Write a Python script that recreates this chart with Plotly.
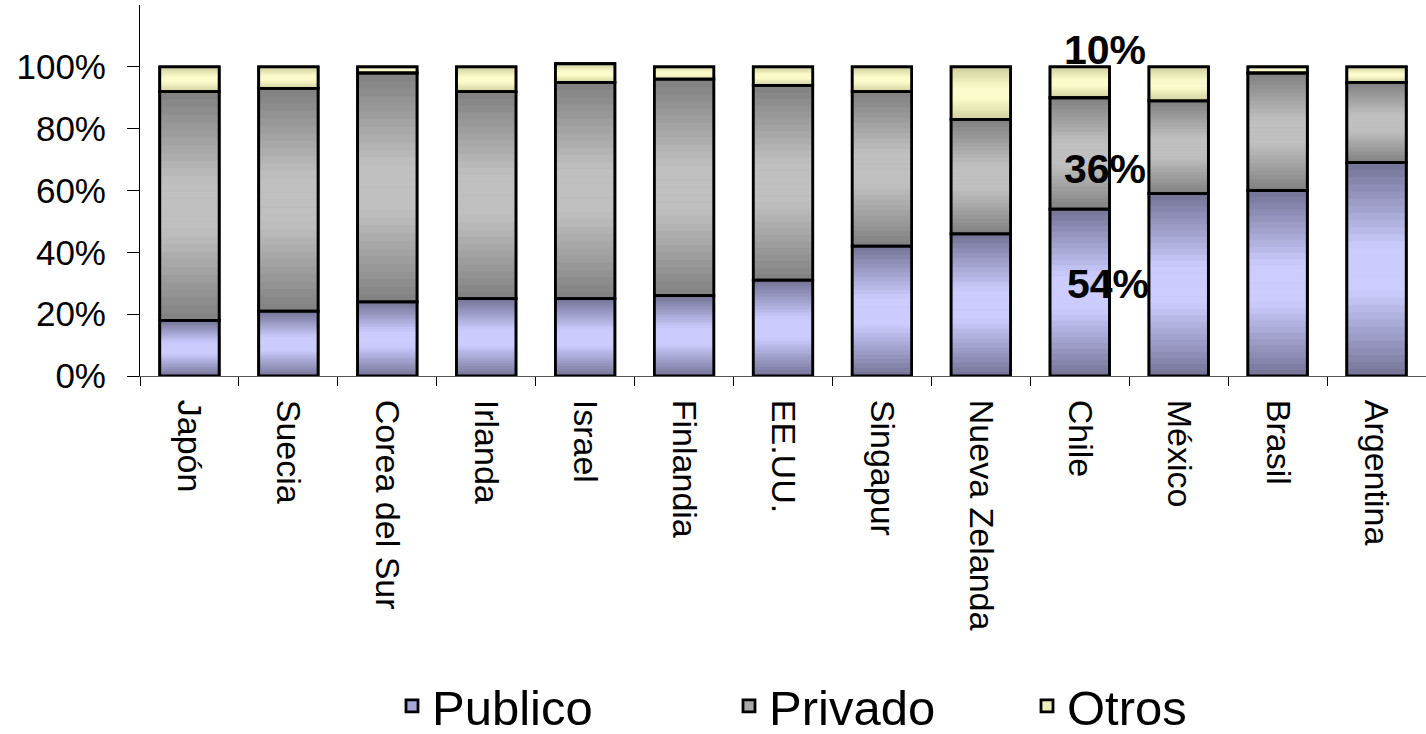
import plotly.graph_objects as go

categories = ["Japón", "Suecia", "Corea del Sur", "Irlanda", "Israel", "Finlandia",
              "EE.UU.", "Singapur", "Nueva Zelanda", "Chile", "México", "Brasil", "Argentina"]
publico = [18, 21, 24, 25, 25, 26, 31, 42, 46, 54, 59, 60, 69]
privado = [74, 72, 74, 67, 70, 70, 63, 50, 37, 36, 30, 38, 26]
otros = [8, 7, 2, 8, 6, 4, 6, 8, 17, 10, 11, 2, 5]
series_names = ["Publico", "Privado", "Otros"]
chile_labels = ["54%", "36%", "10%"]
y_ticks = [0, 20, 40, 60, 80, 100]

# gradient colours: (edge, centre)
grad = {
    "Publico": ((0x73, 0x73, 0x96), (0xCC, 0xCC, 0xFF)),
    "Privado": ((0x80, 0x80, 0x80), (0xC0, 0xC0, 0xC0)),
    "Otros": ((0xCF, 0xCF, 0x9E), (0xFC, 0xFC, 0xCC)),
}
mid = {"Publico": "#A8A8D8", "Privado": "#A8A8A8", "Otros": "#EEEEBB"}

FONT = "Liberation Sans, Arial, sans-serif"
BAR_W = 0.6
N = 30

fig = go.Figure()
values = [publico, privado, otros]
bases = []
acc = [0] * len(categories)
for vals in values:
    bases.append(list(acc))
    acc = [a + v for a, v in zip(acc, vals)]

legend_ids = ["legend", "legend2", "legend3"]

# legend/base layer
for name, vals, base, lid in zip(series_names, values, bases, legend_ids):
    fig.add_trace(go.Bar(x=categories, y=vals, base=base, name=name, width=BAR_W,
                         marker=dict(color=mid[name], line=dict(color="black", width=2.8)),
                         legend=lid, hoverinfo="skip"))

# gradient slices
for name, vals, base in zip(series_names, values, bases):
    edge, centre = grad[name]
    for i in range(N):
        t = (i + 0.5) / N
        f = 1 - abs(2 * t - 1)
        f = min(1.0, f * 1.25)
        c = tuple(int(round(e + (cc - e) * f)) for e, cc in zip(edge, centre))
        col = "rgb(%d,%d,%d)" % c
        fig.add_trace(go.Bar(x=categories, y=[v / N for v in vals],
                             base=[b + v * i / N for b, v in zip(base, vals)],
                             width=BAR_W, showlegend=False, hoverinfo="skip",
                             marker=dict(color=col, line=dict(color=col, width=0.6))))

# frames
for name, vals, base in zip(series_names, values, bases):
    fig.add_trace(go.Bar(x=categories, y=vals, base=base, width=BAR_W, showlegend=False,
                         marker=dict(color="rgba(0,0,0,0)", line=dict(color="black", width=2.8)),
                         hoverinfo="skip"))

# Chile annotations
ci = categories.index("Chile")
label_y = [publico[ci] * 0.55, publico[ci] + privado[ci] * 0.36,
           publico[ci] + privado[ci] + otros[ci] + 5.5]
label_shift = [28, 25, 25]
for txt, yy, sh in zip(chile_labels, label_y, label_shift):
    fig.add_annotation(x="Chile", y=yy, text="<b>%s</b>" % txt, showarrow=False,
                       xshift=sh, font=dict(family=FONT, size=41, color="black"))

leg_common = dict(orientation="h", font=dict(family=FONT, size=49, color="black"),
                  bgcolor="rgba(0,0,0,0)", xanchor="left", yanchor="middle",
                  xref="container", yref="container",
                  itemclick=False, itemdoubleclick=False)
leg_y = (734 - 706) / 734

fig.update_layout(
    barmode="overlay",
    width=1426, height=734,
    margin=dict(l=140, r=0, t=5, b=358, autoexpand=False),
    plot_bgcolor="white", paper_bgcolor="white",
    font=dict(family=FONT, color="black"),
    showlegend=True,
    legend=dict(x=392 / 1426, y=leg_y, **leg_common),
    legend2=dict(x=729 / 1426, y=leg_y, **leg_common),
    legend3=dict(x=1027 / 1426, y=leg_y, **leg_common),
    xaxis=dict(type="category", range=[-0.5, 12.5], showline=True, linecolor="#555555",
               linewidth=1, ticks="outside", tickson="boundaries", ticklen=9,
               tickcolor="black", tickangle=90, showgrid=False, zeroline=False,
               automargin=False,
               tickfont=dict(family=FONT, size=34, color="black"), ticklabelstandoff=16),
    yaxis=dict(range=[0, 120], tickvals=y_ticks, ticktext=["%d%%" % v for v in y_ticks],
               showline=True, linecolor="black", linewidth=1, ticks="outside", ticklen=12,
               tickcolor="black", showgrid=False, zeroline=False, automargin=False,
               tickfont=dict(family=FONT, size=35, color="black"), ticklabelstandoff=14),
)

fig.write_html("out.html")
